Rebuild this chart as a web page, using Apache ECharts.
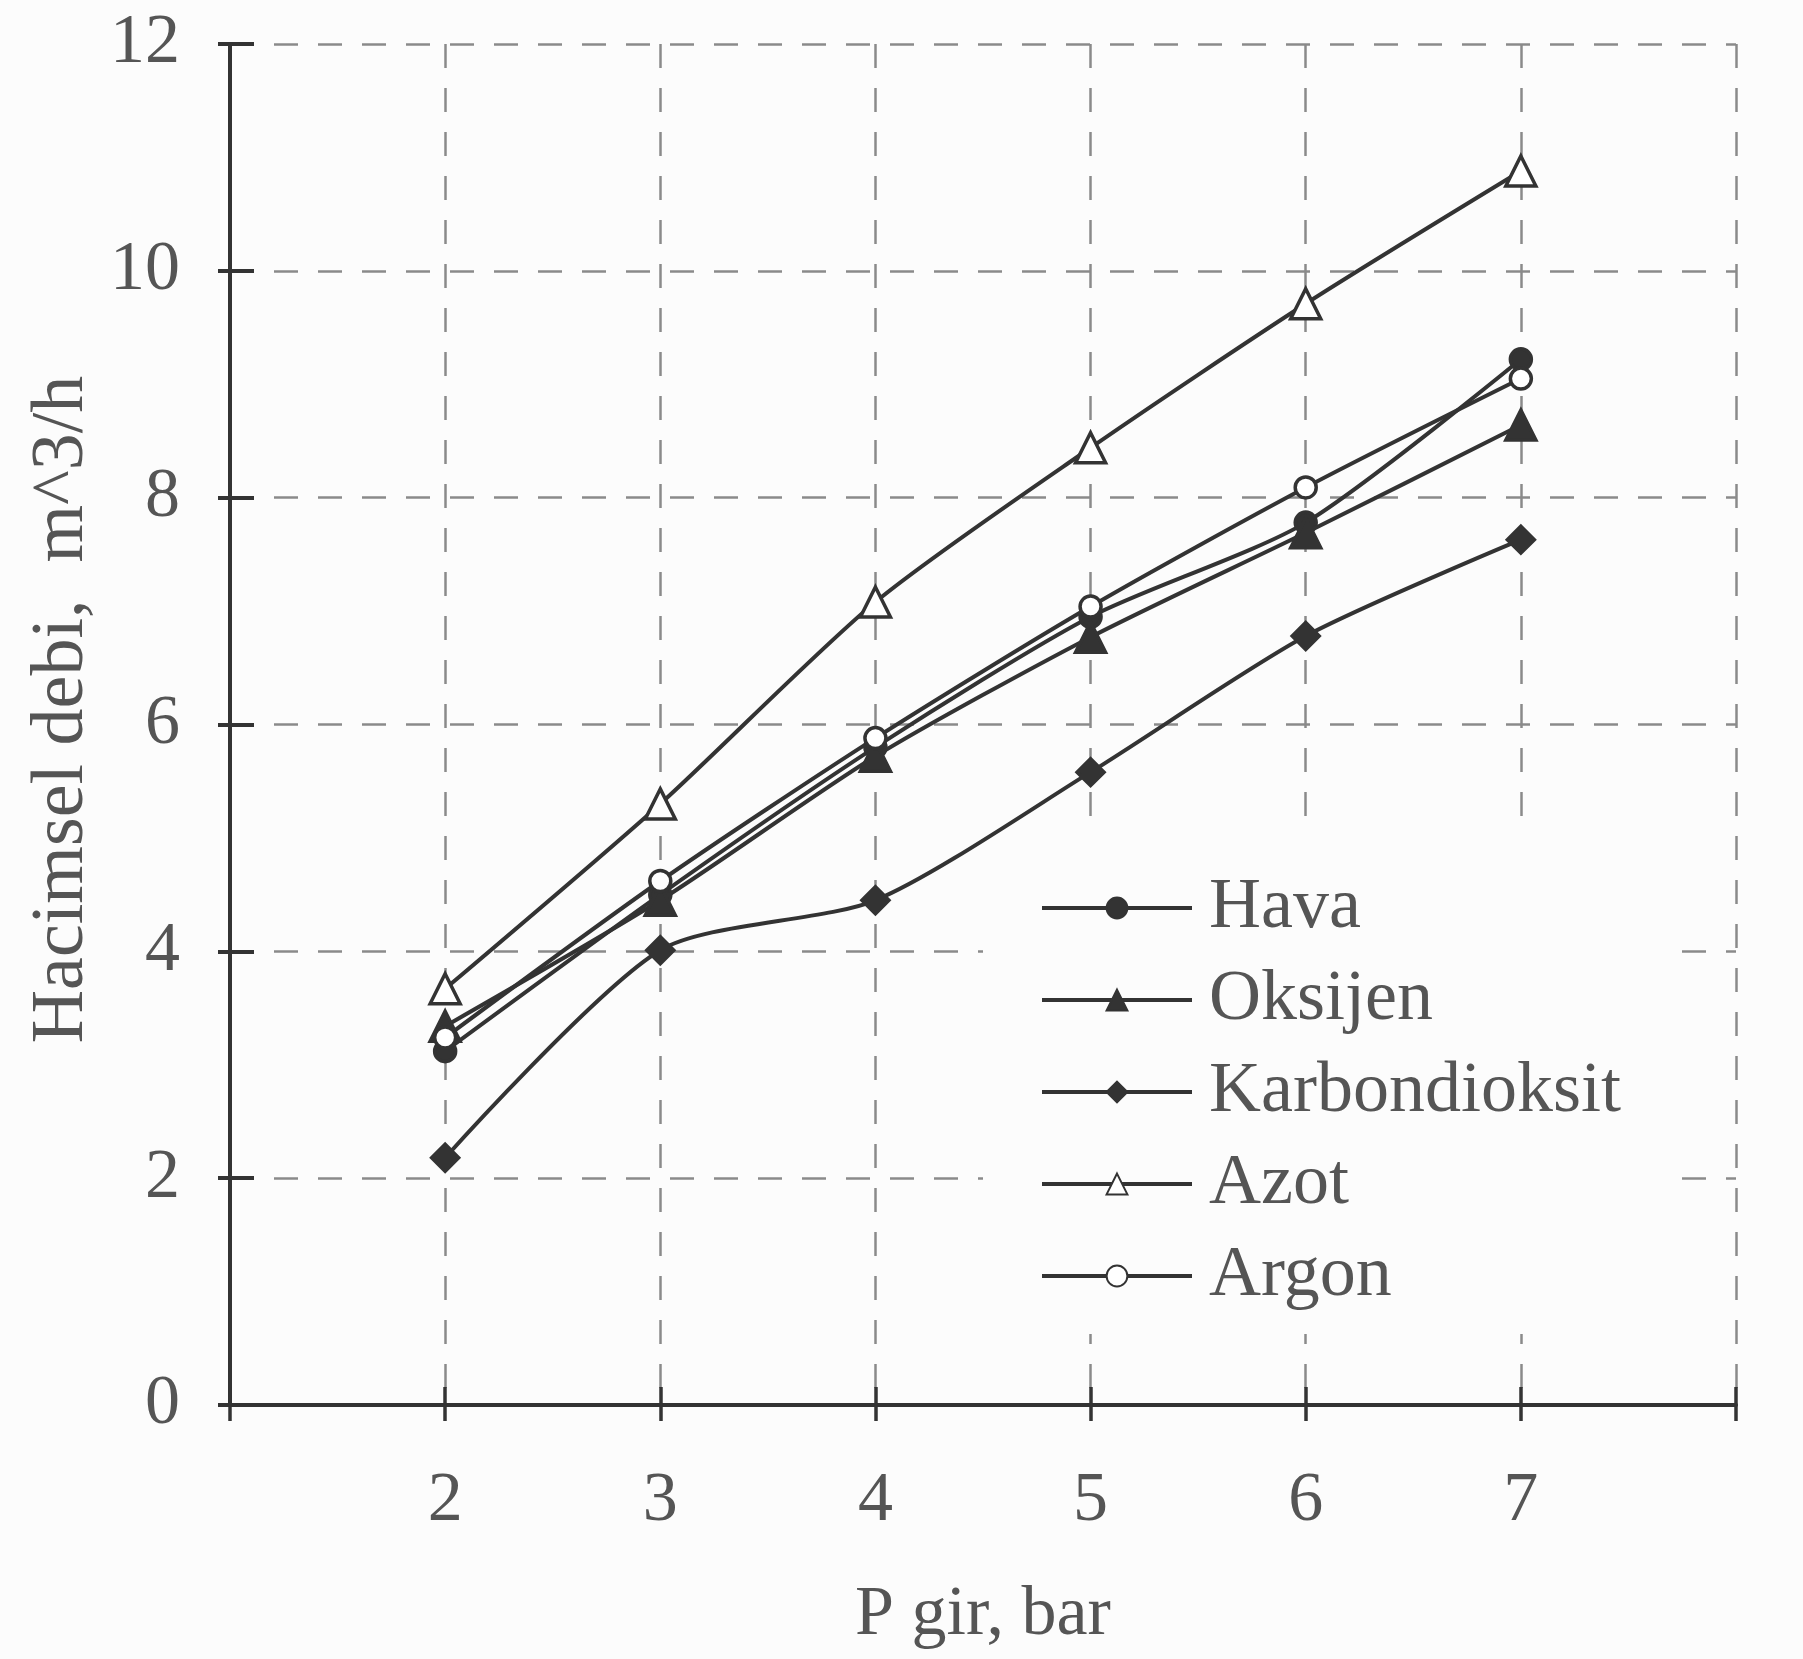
<!DOCTYPE html>
<html>
<head>
<meta charset="utf-8">
<script src="https://cdn.jsdelivr.net/npm/echarts@6/dist/echarts.min.js"></script>
<style>
html,body{margin:0;padding:0;background:#fcfcfc;}
#chart{width:1803px;height:1659px;}
</style>
</head>
<body>
<div id="chart"></div>
<script>
// ---- data ----
const pressures = [2, 3, 4, 5, 6, 7];               // Pgir, bar
const hava = [3.12, 4.50, 5.80, 6.95, 7.78, 9.22];
const oksijen = [3.34, 4.45, 5.72, 6.77, 7.69, 8.64];
const karbondioksit = [2.18, 4.01, 4.45, 5.58, 6.78, 7.63];
const azot = [3.67, 5.30, 7.08, 8.44, 9.71, 10.88];
const argon = [3.24, 4.62, 5.88, 7.04, 8.09, 9.05];
const seriesNames = ['Hava', 'Oksijen', 'Karbondioksit', 'Azot', 'Argon'];
const xTickLabels = ['2', '3', '4', '5', '6', '7'];
const xAxisName = 'P gir, bar';
const yAxisName = 'Hacimsel debi,  m^3/h';

const INK = '#333333';
const TXT = '#555555';
const FONT = '"Liberation Serif", "DejaVu Serif", serif';

function pairs(vals) { return pressures.map((p, i) => [p, vals[i]]); }

const symbols = [
  { symbol: 'circle', size: 21, fill: INK },
  { symbol: 'triangle', size: 30, fill: INK },
  { symbol: 'diamond', size: 27, fill: INK },
  { symbol: 'triangle', size: 30, fill: '#ffffff' },
  { symbol: 'circle', size: 21, fill: '#ffffff' }
];
const allValues = [hava, oksijen, karbondioksit, azot, argon];

const gridLineStyle = { color: '#8a8a8a', width: 2.5, type: [24, 20] };

const chart = echarts.init(document.getElementById('chart'), null, { renderer: 'canvas' });
chart.setOption({
  backgroundColor: '#fcfcfc',
  animation: false,
  grid: { left: 230, right: 67, top: 44, bottom: 254, containLabel: false },
  xAxis: [
    {
      type: 'value', min: 1, max: 8, interval: 1, position: 'bottom',
      axisLine: { show: true, onZero: false, lineStyle: { color: INK, width: 4 } },
      axisTick: { show: true, length: 16, lineStyle: { color: INK, width: 3.5 } },
      axisLabel: {
        margin: 62, fontSize: 70, color: TXT, fontFamily: FONT,
        formatter: v => { const i = pressures.indexOf(v); return i >= 0 ? xTickLabels[i] : ''; }
      },
      splitLine: { show: true, lineStyle: gridLineStyle },
      name: xAxisName, nameLocation: 'middle', nameGap: 176,
      nameTextStyle: { fontSize: 70, color: TXT, fontFamily: FONT }
    },
    {
      type: 'value', min: 1, max: 8, interval: 1, position: 'bottom',
      axisLine: { show: false },
      axisTick: { show: true, inside: true, length: 18, lineStyle: { color: INK, width: 3.5 } },
      axisLabel: { show: false },
      splitLine: { show: false }
    }
  ],
  yAxis: [
    {
      type: 'value', min: 0, max: 12, interval: 2, position: 'left',
      axisLine: { show: true, onZero: false, lineStyle: { color: INK, width: 4 } },
      axisTick: { show: true, length: 12, lineStyle: { color: INK, width: 4 } },
      axisLabel: { margin: 50, fontSize: 70, color: TXT, fontFamily: FONT },
      splitLine: { show: true, lineStyle: gridLineStyle },
      name: yAxisName, nameLocation: 'middle', nameGap: 130, nameRotate: 90,
      nameTextStyle: { fontSize: 74, color: TXT, fontFamily: FONT, padding: [0, 0, 0, 30] }
    },
    {
      type: 'value', min: 0, max: 12, interval: 2, position: 'left',
      axisLine: { show: false },
      axisTick: { show: true, inside: true, length: 24, lineStyle: { color: INK, width: 4 } },
      axisLabel: { show: false },
      splitLine: { show: false }
    }
  ],
  legend: {
    orient: 'vertical',
    left: 983, top: 834,
    padding: [34, 60, 18, 57],
    backgroundColor: '#fcfcfc',
    itemWidth: 150, itemHeight: 26, itemGap: 12,
    lineStyle: { width: 4, color: INK },
    textStyle: { fontSize: 72, lineHeight: 80, color: TXT, fontFamily: FONT, padding: [0, 0, 0, 12] },
    data: seriesNames
  },
  series: seriesNames.map((name, k) => ({
    name: name,
    type: 'line',
    xAxisIndex: 0, yAxisIndex: 0,
    smooth: 0.25,
    data: pairs(allValues[k]),
    symbol: symbols[k].symbol,
    symbolSize: symbols[k].size,
    lineStyle: { color: INK, width: 4 },
    itemStyle: { color: symbols[k].fill, borderColor: INK, borderWidth: 3.5 },
    z: 3 + k
  }))
});
</script>
</body>
</html>
